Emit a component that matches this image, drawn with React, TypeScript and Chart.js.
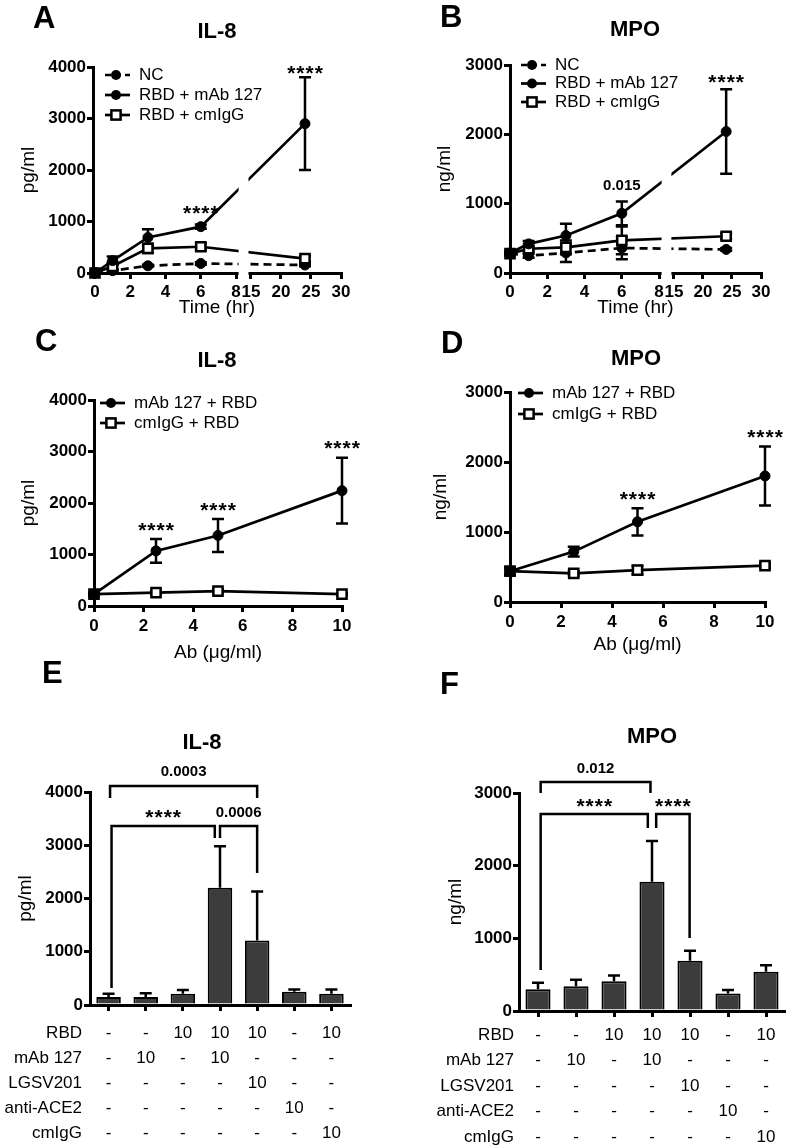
import React, { useEffect, useRef } from 'react';
import { Chart, registerables, LinearScale } from 'chart.js';

Chart.register(...registerables);

const FONT = "'Liberation Sans', Arial, Helvetica, sans-serif";
Chart.defaults.font.family = FONT;
Chart.defaults.color = '#000';

// ---------------- DATA ----------------
// Panels A/B: time course (hr)
const TIME_HR = [0, 1, 3, 6, 24];
const TIME_TICKS = [0, 2, 4, 6, 8, 15, 20, 25, 30];

const A_NC = [10, 45, 140, 185, 155];
const A_NC_ERR = [0, 15, 20, 25, 25];
const A_MAB = [0, 240, 690, 900, 2900];
const A_MAB_ERR = [0, 80, 160, 40, 900];
const A_CMIGG = [0, 130, 480, 510, 280];
const A_CMIGG_ERR = [0, 60, 90, 70, 50];

const B_NC = [280, 250, 290, 360, 340];
const B_NC_ERR = [20, 30, 130, 160, 20];
const B_MAB = [290, 420, 540, 860, 2040];
const B_MAB_ERR = [20, 40, 170, 170, 610];
const B_CMIGG = [280, 350, 370, 470, 530];
const B_CMIGG_ERR = [20, 30, 100, 200, 40];

// Panels C/D: dose (ug/ml)
const DOSE = [0, 2.5, 5, 10];
const DOSE_TICKS = [0, 2, 4, 6, 8, 10];

const C_MAB = [230, 1070, 1370, 2240];
const C_MAB_ERR = [30, 230, 320, 640];
const C_CMIGG = [230, 260, 290, 230];
const C_CMIGG_ERR = [30, 30, 30, 20];

const D_MAB = [440, 720, 1145, 1800];
const D_MAB_ERR = [50, 70, 195, 420];
const D_CMIGG = [440, 410, 455, 520];
const D_CMIGG_ERR = [50, 30, 60, 30];

// Panels E/F: bar conditions
const ROW_NAMES = ['RBD', 'mAb 127', 'LGSV201', 'anti-ACE2', 'cmIgG'];
const ROW_RBD = ['-', '-', '10', '10', '10', '-', '10'];
const ROW_MAB = ['-', '10', '-', '10', '-', '-', '-'];
const ROW_LGSV = ['-', '-', '-', '-', '10', '-', '-'];
const ROW_ACE2 = ['-', '-', '-', '-', '-', '10', '-'];
const ROW_CMIGG = ['-', '-', '-', '-', '-', '-', '10'];
const COLUMNS = ROW_RBD.map((_, i) => [ROW_RBD[i], ROW_MAB[i], ROW_LGSV[i], ROW_ACE2[i], ROW_CMIGG[i]]);

const E_IL8 = [150, 150, 210, 2200, 1210, 250, 210];
const E_IL8_ERR = [60, 70, 70, 780, 920, 40, 80];
const F_MPO = [300, 340, 410, 1780, 690, 240, 540];
const F_MPO_ERR = [90, 90, 80, 560, 140, 50, 90];

const Y4000 = [0, 1000, 2000, 3000, 4000];
const Y3000 = [0, 1000, 2000, 3000];

// ---------------- BROKEN AXIS SCALE ----------------
class BrokenLinearScale extends (LinearScale as any) {
  static id = 'brokenLinear';
  static defaults = (LinearScale as any).defaults;
  getPixelForValue(value: number) {
    const self = this as any;
    const b = self.options.brk;
    const min = self.min, max = self.max;
    let d: number;
    if (value <= b.a) d = ((value - min) / (b.a - min)) * b.f1;
    else if (value >= b.b) d = b.f2 + ((value - b.b) / (max - b.b)) * (1 - b.f2);
    else d = b.f1 + ((value - b.a) / (b.b - b.a)) * (b.f2 - b.f1);
    return self.getPixelForDecimal(d);
  }
  getValueForPixel(pixel: number) {
    const self = this as any;
    const b = self.options.brk;
    const min = self.min, max = self.max;
    const d = self.getDecimalForPixel(pixel);
    if (d <= b.f1) return min + (d / b.f1) * (b.a - min);
    if (d >= b.f2) return b.b + ((d - b.f2) / (1 - b.f2)) * (max - b.b);
    return b.a + ((d - b.f1) / (b.f2 - b.f1)) * (b.b - b.a);
  }
}
Chart.register(BrokenLinearScale as any);

// ---------------- HELPERS ----------------
const TICK_FONT = { family: FONT, size: 17, weight: 'bold' as const };
const GRID = { drawOnChartArea: false, drawTicks: true, tickLength: 6, lineWidth: 3, color: '#000' };
const BORDER = { display: true, width: 3, color: '#000' };

type LegendItem = { label: string; dashed: boolean; square: boolean };
type Note = { x: number; y: number; text: string };
type Bracket = { x0: number; x1: number; y: number; y0: number; y1: number; label: string; ly: number };
type ErrSpec = { ds: number; vals: number[]; errs: number[]; upOnly?: boolean };

interface Spec {
  key: string;
  kind: 'line' | 'bar';
  box: { x: number; y: number; w: number; h: number };
  area: { L: number; R: number; T: number; B: number };
  letter: string;
  letterAt: [number, number];
  title: string;
  titleAt: [number, number];
  yTitle: string;
  yTitleX: number;
  yMax: number;
  yTicks: number[];
  legend?: { x: number; y: number; gap: number; items: LegendItem[] };
  notes: Note[];
  brackets?: Bracket[];
  errors: ErrSpec[];
  breakAt?: [number, number];
  table?: { right: number; pad: number; lh: number };
  xOpts?: any;
  datasets: any[];
  labels?: any[];
}

function lineDs(xs: number[], ys: number[], style: 'nc' | 'mab' | 'cm') {
  const base: any = {
    data: xs.map((x, i) => ({ x, y: ys[i] })),
    borderColor: '#000',
    borderWidth: 2.7,
    tension: 0,
    clip: false,
    fill: false,
    pointBorderColor: '#000',
  };
  if (style === 'cm') {
    return { ...base, pointStyle: 'rect', pointRadius: 6.5, pointBackgroundColor: '#fff', pointBorderWidth: 2.5 };
  }
  return {
    ...base,
    pointStyle: 'circle',
    pointRadius: 5,
    pointBackgroundColor: '#000',
    pointBorderWidth: 1,
    borderDash: style === 'nc' ? [8, 5] : [],
  };
}

function barDs(vals: number[]) {
  return {
    data: vals,
    backgroundColor: '#3c3c3c',
    borderColor: '#000',
    borderWidth: 2,
    barPercentage: 0.66,
    categoryPercentage: 1,
  };
}

function drawMarker(ctx: CanvasRenderingContext2D, x: number, y: number, square: boolean) {
  ctx.save();
  ctx.setLineDash([]);
  if (square) {
    ctx.fillStyle = '#fff';
    ctx.strokeStyle = '#000';
    ctx.lineWidth = 2.5;
    ctx.fillRect(x - 4.6, y - 4.6, 9.2, 9.2);
    ctx.strokeRect(x - 4.6, y - 4.6, 9.2, 9.2);
  } else {
    ctx.fillStyle = '#000';
    ctx.beginPath();
    ctx.arc(x, y, 5, 0, Math.PI * 2);
    ctx.fill();
  }
  ctx.restore();
}

function drawNote(ctx: CanvasRenderingContext2D, px: number, py: number, text: string) {
  ctx.save();
  ctx.fillStyle = '#000';
  ctx.textAlign = 'center';
  if (text.startsWith('*')) {
    ctx.font = `bold 21px ${FONT}`;
    (ctx as any).letterSpacing = '1px';
    ctx.textBaseline = 'alphabetic';
    ctx.fillText(text, px + 0.5, py + 0.58 * 21);
  } else {
    ctx.font = `bold 15px ${FONT}`;
    ctx.textBaseline = 'alphabetic';
    ctx.fillText(text, px, py + 0.358 * 15);
  }
  ctx.restore();
}

function decor(s: Spec) {
  return {
    id: 'decor_' + s.key,
    beforeDatasetsDraw(chart: any) {
      const ctx: CanvasRenderingContext2D = chart.ctx;
      const ys = chart.scales.y;
      ctx.save();
      ctx.strokeStyle = '#000';
      ctx.lineWidth = 2.5;
      ctx.setLineDash([]);
      for (const e of s.errors) {
        const meta = chart.getDatasetMeta(e.ds);
        e.vals.forEach((v, i) => {
          const err = e.errs[i];
          if (!err) return;
          const el = meta.data[i];
          if (!el) return;
          const px = el.x;
          const top = ys.getPixelForValue(v + err);
          const bot = e.upOnly ? ys.getPixelForValue(v) : ys.getPixelForValue(v - err);
          ctx.beginPath();
          ctx.moveTo(px, bot);
          ctx.lineTo(px, top);
          ctx.moveTo(px - 6, top);
          ctx.lineTo(px + 6, top);
          if (!e.upOnly) {
            ctx.moveTo(px - 6, bot);
            ctx.lineTo(px + 6, bot);
          }
          ctx.stroke();
        });
      }
      ctx.restore();
    },
    afterDatasetsDraw(chart: any) {
      if (!s.breakAt) return;
      const ctx: CanvasRenderingContext2D = chart.ctx;
      const xs = chart.scales.x;
      const a = chart.chartArea;
      const x0 = xs.getPixelForValue(s.breakAt[0]) + 2.5;
      const x1 = xs.getPixelForValue(s.breakAt[1]) - 2.5;
      ctx.save();
      ctx.fillStyle = '#fff';
      ctx.fillRect(x0, a.top - 10, x1 - x0, a.bottom - a.top + 13);
      ctx.restore();
    },
    afterDraw(chart: any) {
      const ctx: CanvasRenderingContext2D = chart.ctx;
      const xs = chart.scales.x;
      const ys = chart.scales.y;
      const ox = s.box.x;
      const oy = s.box.y;
      ctx.save();
      ctx.fillStyle = '#000';
      ctx.strokeStyle = '#000';
      // panel letter
      ctx.font = `bold 31px ${FONT}`;
      ctx.textAlign = 'left';
      ctx.textBaseline = 'alphabetic';
      ctx.fillText(s.letter, s.letterAt[0] - ox, s.letterAt[1] - oy + 0.358 * 31);
      // title
      ctx.font = `bold 22px ${FONT}`;
      ctx.textAlign = 'center';
      ctx.fillText(s.title, s.titleAt[0] - ox, s.titleAt[1] - oy + 0.358 * 22);
      // legend
      if (s.legend) {
        const L = s.legend;
        L.items.forEach((it, r) => {
          const y = L.y + r * L.gap - oy;
          const sx = L.x - ox;
          ctx.save();
          ctx.lineWidth = 2.7;
          ctx.setLineDash(it.dashed ? [6, 4] : []);
          ctx.beginPath();
          ctx.moveTo(sx, y);
          ctx.lineTo(sx + 25, y);
          ctx.stroke();
          ctx.restore();
          drawMarker(ctx, sx + 11, y, it.square);
          ctx.font = `17px ${FONT}`;
          ctx.textAlign = 'left';
          ctx.textBaseline = 'middle';
          ctx.fillText(it.label, sx + 34, y);
        });
      }
      // brackets
      if (s.brackets) {
        ctx.save();
        ctx.lineWidth = 2.5;
        ctx.lineJoin = 'miter';
        ctx.setLineDash([]);
        for (const b of s.brackets) {
          const X0 = xs.getPixelForValue(b.x0);
          const X1 = xs.getPixelForValue(b.x1);
          ctx.beginPath();
          ctx.moveTo(X0, ys.getPixelForValue(b.y0));
          ctx.lineTo(X0, ys.getPixelForValue(b.y));
          ctx.lineTo(X1, ys.getPixelForValue(b.y));
          ctx.lineTo(X1, ys.getPixelForValue(b.y1));
          ctx.stroke();
          drawNote(ctx, (X0 + X1) / 2, ys.getPixelForValue(b.ly), b.label);
        }
        ctx.restore();
      }
      // notes
      for (const n of s.notes) {
        drawNote(ctx, xs.getPixelForValue(n.x), ys.getPixelForValue(n.y), n.text);
      }
      // table row headers
      if (s.table) {
        const t = s.table;
        const lh = 17 * t.lh;
        const y0 = xs.top + GRID.tickLength + t.pad + lh / 2;
        ctx.font = `17px ${FONT}`;
        ctx.textAlign = 'right';
        ctx.textBaseline = 'middle';
        ROW_NAMES.forEach((n, r) => ctx.fillText(n, t.right - ox, y0 + r * lh));
      }
      ctx.restore();
    },
  };
}

function buildConfig(s: Spec): any {
  const yW = s.area.L - s.box.x;
  const padT = s.area.T - s.box.y;
  const padR = s.box.x + s.box.w - s.area.R;
  const xH = s.box.y + s.box.h - s.area.B;
  const zeroPad = (sc: any) => {
    sc.paddingLeft = 0;
    sc.paddingRight = 0;
    sc.paddingTop = 0;
    sc.paddingBottom = 0;
  };
  const y = {
    type: 'linear',
    position: 'left',
    min: 0,
    max: s.yMax,
    grid: { ...GRID },
    border: { ...BORDER },
    ticks: { font: TICK_FONT, color: '#000', padding: 1, callback: (v: number) => String(v) },
    afterBuildTicks: (sc: any) => {
      sc.ticks = s.yTicks.map((v) => ({ value: v }));
    },
    title: {
      display: true,
      text: s.yTitle,
      color: '#000',
      font: { family: FONT, size: 19 },
      padding: { top: s.yTitleX - s.box.x - 11.4, bottom: 0 },
    },
    afterFit: (sc: any) => {
      sc.width = yW;
      zeroPad(sc);
    },
  };
  let x: any;
  if (s.kind === 'line') {
    const xo = s.xOpts;
    x = {
      type: xo.type,
      position: 'bottom',
      min: xo.min,
      max: xo.max,
      brk: xo.brk,
      grid: { ...GRID },
      border: { ...BORDER },
      ticks: {
        font: TICK_FONT,
        color: '#000',
        padding: xo.tickPad,
        autoSkip: false,
        maxRotation: 0,
        minRotation: 0,
        callback: (v: number) => String(v),
      },
      afterBuildTicks: (sc: any) => {
        sc.ticks = xo.ticks.map((v: number) => ({ value: v }));
      },
      title: {
        display: true,
        text: xo.title,
        color: '#000',
        font: { family: FONT, size: 19 },
        padding: { top: 0, bottom: s.box.y + s.box.h - xo.titleY - 11.4 },
      },
      afterFit: (sc: any) => {
        sc.height = xH;
        zeroPad(sc);
      },
    };
  } else {
    const t = s.table!;
    x = {
      type: 'category',
      position: 'bottom',
      offset: true,
      grid: { ...GRID, offset: false },
      border: { ...BORDER },
      ticks: {
        font: { family: FONT, size: 17, weight: 'normal', lineHeight: t.lh },
        color: '#000',
        padding: t.pad,
        autoSkip: false,
        maxRotation: 0,
        minRotation: 0,
      },
      afterFit: (sc: any) => {
        sc.height = xH;
        zeroPad(sc);
      },
    };
  }
  return {
    type: s.kind,
    data: { labels: s.labels, datasets: s.datasets },
    options: {
      responsive: false,
      maintainAspectRatio: false,
      animation: false,
      events: [],
      layout: { autoPadding: false, padding: { left: 0, top: padT, right: padR, bottom: 0 } },
      plugins: { legend: { display: false }, tooltip: { enabled: false }, title: { display: false } },
      scales: { x, y },
    },
    plugins: [decor(s)],
  };
}

const LEG3: LegendItem[] = [
  { label: 'NC', dashed: true, square: false },
  { label: 'RBD + mAb 127', dashed: false, square: false },
  { label: 'RBD + cmIgG', dashed: false, square: true },
];
const LEG2: LegendItem[] = [
  { label: 'mAb 127 + RBD', dashed: false, square: false },
  { label: 'cmIgG + RBD', dashed: false, square: true },
];

const SPECS: Spec[] = [
  {
    key: 'A',
    kind: 'line',
    box: { x: 0, y: 0, w: 393, h: 323 },
    area: { L: 93, R: 341, T: 67, B: 273 },
    letter: 'A',
    letterAt: [33, 17],
    title: 'IL-8',
    titleAt: [217, 30],
    yTitle: 'pg/ml',
    yTitleX: 29,
    yMax: 4000,
    yTicks: Y4000,
    legend: { x: 105, y: 75, gap: 20, items: LEG3 },
    notes: [
      { x: 6, y: 1262, text: '****' },
      { x: 24, y: 3990, text: '****' },
    ],
    errors: [
      { ds: 0, vals: A_MAB, errs: A_MAB_ERR },
      { ds: 1, vals: A_CMIGG, errs: A_CMIGG_ERR },
      { ds: 2, vals: A_NC, errs: A_NC_ERR },
    ],
    breakAt: [8, 15],
    xOpts: {
      type: 'brokenLinear',
      min: -0.113,
      max: 30,
      brk: { a: 8, b: 15, f1: 0.577, f2: 0.637 },
      ticks: TIME_TICKS,
      tickPad: 3,
      title: 'Time (hr)',
      titleY: 308,
    },
    datasets: [lineDs(TIME_HR, A_MAB, 'mab'), lineDs(TIME_HR, A_CMIGG, 'cm'), lineDs(TIME_HR, A_NC, 'nc')],
  },
  {
    key: 'B',
    kind: 'line',
    box: { x: 393, y: 0, w: 393, h: 323 },
    area: { L: 510, R: 761, T: 65, B: 273 },
    letter: 'B',
    letterAt: [440, 16],
    title: 'MPO',
    titleAt: [635, 28],
    yTitle: 'ng/ml',
    yTitleX: 445,
    yMax: 3000,
    yTicks: Y3000,
    legend: { x: 521, y: 65, gap: 18.5, items: LEG3 },
    notes: [
      { x: 6, y: 1269, text: '0.015' },
      { x: 24, y: 2834, text: '****' },
    ],
    errors: [
      { ds: 0, vals: B_MAB, errs: B_MAB_ERR },
      { ds: 1, vals: B_CMIGG, errs: B_CMIGG_ERR },
      { ds: 2, vals: B_NC, errs: B_NC_ERR },
    ],
    breakAt: [8, 15],
    xOpts: {
      type: 'brokenLinear',
      min: 0,
      max: 30,
      brk: { a: 8, b: 15, f1: 0.594, f2: 0.653 },
      ticks: TIME_TICKS,
      tickPad: 3,
      title: 'Time (hr)',
      titleY: 308,
    },
    datasets: [lineDs(TIME_HR, B_MAB, 'mab'), lineDs(TIME_HR, B_CMIGG, 'cm'), lineDs(TIME_HR, B_NC, 'nc')],
  },
  {
    key: 'C',
    kind: 'line',
    box: { x: 0, y: 310, w: 393, h: 358 },
    area: { L: 94, R: 342, T: 400, B: 606 },
    letter: 'C',
    letterAt: [35, 340],
    title: 'IL-8',
    titleAt: [217, 359],
    yTitle: 'pg/ml',
    yTitleX: 29,
    yMax: 4000,
    yTicks: Y4000,
    legend: { x: 100, y: 403, gap: 20, items: LEG2 },
    notes: [
      { x: 2.5, y: 1573, text: '****' },
      { x: 5, y: 1963, text: '****' },
      { x: 10, y: 3166, text: '****' },
    ],
    errors: [
      { ds: 0, vals: C_MAB, errs: C_MAB_ERR },
      { ds: 1, vals: C_CMIGG, errs: C_CMIGG_ERR },
    ],
    xOpts: {
      type: 'linear',
      min: 0,
      max: 10,
      ticks: DOSE_TICKS,
      tickPad: 4,
      title: 'Ab (μg/ml)',
      titleY: 653,
    },
    datasets: [lineDs(DOSE, C_MAB, 'mab'), lineDs(DOSE, C_CMIGG, 'cm')],
  },
  {
    key: 'D',
    kind: 'line',
    box: { x: 393, y: 310, w: 393, h: 350 },
    area: { L: 510, R: 765, T: 392, B: 602 },
    letter: 'D',
    letterAt: [441, 342],
    title: 'MPO',
    titleAt: [636, 357],
    yTitle: 'ng/ml',
    yTitleX: 441,
    yMax: 3000,
    yTicks: Y3000,
    legend: { x: 518, y: 393, gap: 21, items: LEG2 },
    notes: [
      { x: 5, y: 1541, text: '****' },
      { x: 10, y: 2429, text: '****' },
    ],
    errors: [
      { ds: 0, vals: D_MAB, errs: D_MAB_ERR },
      { ds: 1, vals: D_CMIGG, errs: D_CMIGG_ERR },
    ],
    xOpts: {
      type: 'linear',
      min: 0,
      max: 10,
      ticks: DOSE_TICKS,
      tickPad: 4,
      title: 'Ab (μg/ml)',
      titleY: 645,
    },
    datasets: [lineDs(DOSE, D_MAB, 'mab'), lineDs(DOSE, D_CMIGG, 'cm')],
  },
  {
    key: 'E',
    kind: 'bar',
    box: { x: 0, y: 640, w: 393, h: 508 },
    area: { L: 90, R: 350, T: 792, B: 1005 },
    letter: 'E',
    letterAt: [42, 672],
    title: 'IL-8',
    titleAt: [202, 741],
    yTitle: 'pg/ml',
    yTitleX: 26,
    yMax: 4000,
    yTicks: Y4000,
    notes: [],
    brackets: [
      { x0: 0.04, x1: 4.0, y: 4113, y0: 3887, y1: 3887, label: '0.0003', ly: 4394 },
      { x0: 0.08, x1: 2.86, y: 3361, y0: 319, y1: 3136, label: '****', ly: 3624 },
      { x0: 3.0, x1: 4.0, y: 3361, y0: 3136, y1: 2479, label: '0.0006', ly: 3624 },
    ],
    errors: [{ ds: 0, vals: E_IL8, errs: E_IL8_ERR, upOnly: true }],
    table: { right: 82, pad: 9.5, lh: 25 / 17 },
    labels: COLUMNS,
    datasets: [barDs(E_IL8)],
  },
  {
    key: 'F',
    kind: 'bar',
    box: { x: 393, y: 640, w: 393, h: 508 },
    area: { L: 519, R: 785, T: 793, B: 1011 },
    letter: 'F',
    letterAt: [440, 683],
    title: 'MPO',
    titleAt: [652, 735],
    yTitle: 'ng/ml',
    yTitleX: 456,
    yMax: 3000,
    yTicks: Y3000,
    notes: [],
    brackets: [
      { x0: 0.07, x1: 2.96, y: 3150, y0: 2999, y1: 2999, label: '0.012', ly: 3343 },
      { x0: 0.07, x1: 2.89, y: 2710, y0: 564, y1: 2517, label: '****', ly: 2889 },
      { x0: 3.11, x1: 3.99, y: 2710, y0: 2517, y1: 1004, label: '****', ly: 2889 },
    ],
    errors: [{ ds: 0, vals: F_MPO, errs: F_MPO_ERR, upOnly: true }],
    table: { right: 514, pad: 5.25, lh: 1.5 },
    labels: COLUMNS,
    datasets: [barDs(F_MPO)],
  },
];

function Panel({ spec }: { spec: Spec }) {
  const ref = useRef<HTMLCanvasElement>(null);
  useEffect(() => {
    if (!ref.current) return;
    const chart = new Chart(ref.current, buildConfig(spec));
    return () => chart.destroy();
  }, [spec]);
  return (
    <canvas
      ref={ref}
      width={spec.box.w}
      height={spec.box.h}
      style={{
        position: 'absolute',
        left: spec.box.x,
        top: spec.box.y,
        width: spec.box.w,
        height: spec.box.h,
      }}
    />
  );
}

export default function App() {
  return (
    <div
      style={{
        position: 'absolute',
        left: 0,
        top: 0,
        width: 786,
        height: 1148,
        background: '#fff',
        overflow: 'hidden',
      }}
    >
      {SPECS.map((s) => (
        <Panel key={s.key} spec={s} />
      ))}
    </div>
  );
}
